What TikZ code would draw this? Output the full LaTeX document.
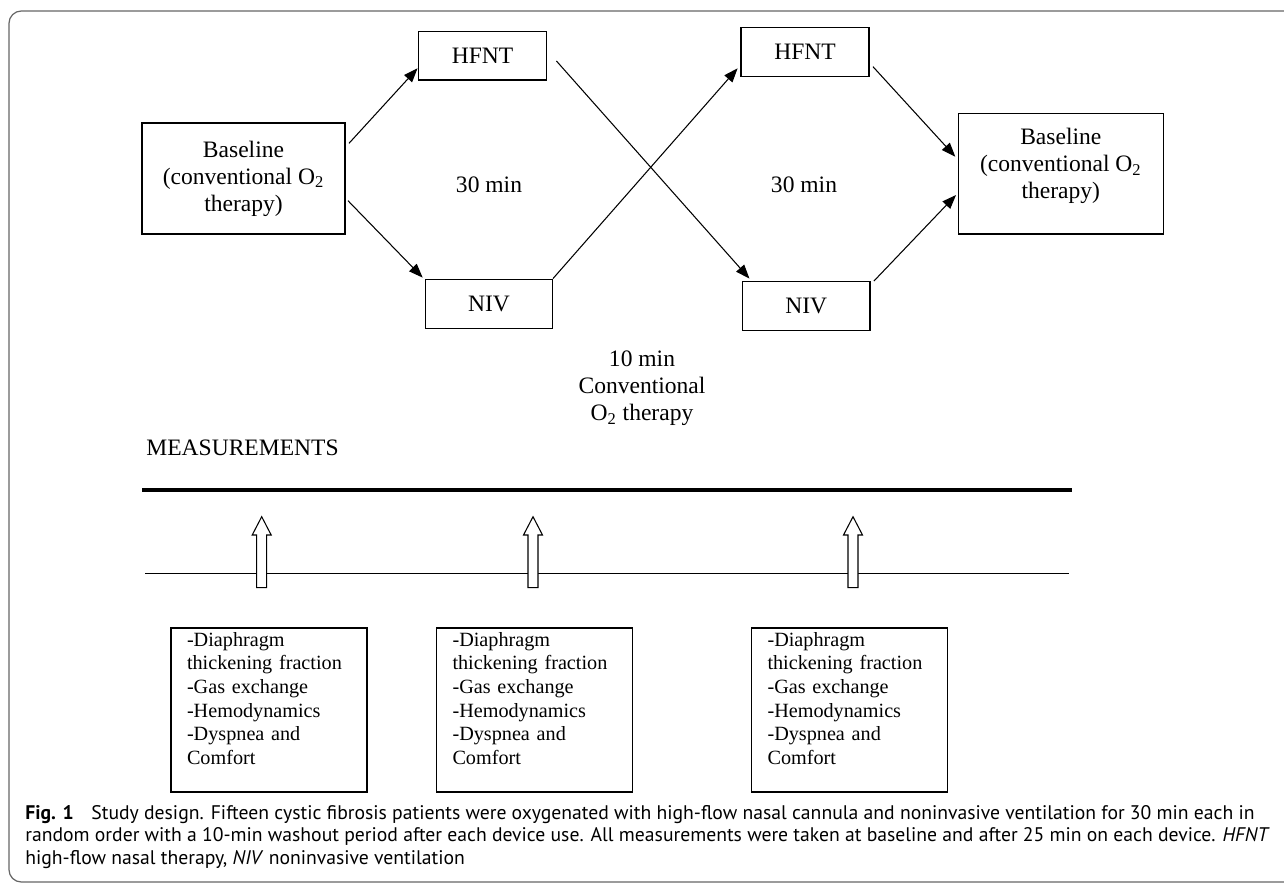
\documentclass[tikz,border=0pt]{standalone}
\usepackage{fontspec}
\setmainfont{Liberation Serif}
\newfontfamily\capfont{PT Sans}
\usetikzlibrary{arrows.meta,calc}

\begin{document}
\begin{tikzpicture}[x=0.02cm,y=-0.02cm,
  box/.style={draw,line width=0.8pt,inner sep=0pt,align=center,font=\fontsize{13.4}{15.3}\selectfont},
  mbox/.style={draw,line width=0.8pt,inner xsep=0.32cm,inner ysep=0pt,text width=3.28cm,
    minimum height=3.28cm,align=left,text depth=80.4pt,font=\fontsize{11.5}{13.4}\selectfont},
  lbl/.style={inner sep=0pt,align=center,font=\fontsize{13.4}{15.3}\selectfont},
  link/.style={line width=0.6pt,-{Triangle[length=8pt,width=6pt]}}]
\useasboundingbox (0,0) rectangle (1284,883);
\draw[black!60,line width=0.7pt,rounded corners=7pt] (1290,11) -- (9,11) -- (9,882) -- (1290,882);

% crossover part
\node[box,minimum width=4.06cm,minimum height=2.22cm] (baseA) at (243.5,178.5) {Baseline\\(conventional O\textsubscript{2}\\therapy)};
\node[box,minimum width=2.57cm,minimum height=0.97cm] (hfntA) at (482.5,55.8) {HFNT};
\node[box,minimum width=2.53cm,minimum height=0.98cm] (nivA) at (489,303.8) {NIV};
\node[box,minimum width=2.56cm,minimum height=0.97cm] (hfntB) at (805,52) {HFNT};
\node[box,minimum width=2.55cm,minimum height=0.98cm] (nivB) at (806.2,306.2) {NIV};
\node[box,minimum width=4.1cm,minimum height=2.41cm,text depth=12pt] (baseB) at (1060.8,173.7) {Baseline\\(conventional O\textsubscript{2}\\therapy)};

\node[lbl] (tA) at (489,185) {30 min};
\node[lbl] (tB) at (804,185) {30 min};
\node[lbl] (wash) at (642,388.5) {10 min\\Conventional\\O\textsubscript{2} therapy};

\draw[link] ($(baseA.north east)+(3.3,21)$) -- ($(hfntA.west)+(0,12.5)$);
\draw[link] ($(baseA.south east)+(2.3,-34)$) -- ($(nivA.north west)+(-2.4,-1)$);
\draw[link] ($(hfntA.east)+(9,5.2)$) -- ($(nivB.north west)+(7.7,-2.4)$);
\draw[link] (nivA.north east) -- ($(hfntB.west)+(-2.7,16.3)$);
\draw[link] ($(hfntB.east)+(3.3,14.7)$) -- ($(baseB.west)+(-2.3,-17)$);
\draw[link] ($(nivB.north east)+(3.3,0)$) -- ($(baseB.west)+(-1.6,21.3)$);

% measurements
\node[lbl,anchor=base west] (meas) at (146,455) {MEASUREMENTS};
\draw[line width=1.9pt] (142,490) -- (1072,490);
\draw[line width=0.6pt] (145,573.7) -- (1069,573.7);
\foreach \x in {261.7,533,853}
  \draw[line width=0.6pt,fill=white] ({\x-5},587.7) -- ({\x-5},535) -- ({\x-9.5},535) -- (\x,516.7)
    -- ({\x+9.5},535) -- ({\x+5},535) -- ({\x+5},587.7) -- cycle;

\node[mbox] (mA) at (269,710) {-Diaphragm\\thickening fraction\\-Gas exchange\\-Hemodynamics\\-Dyspnea and\\Comfort};
\node[mbox] (mB) at (534.5,710) {-Diaphragm\\thickening fraction\\-Gas exchange\\-Hemodynamics\\-Dyspnea and\\Comfort};
\node[mbox] (mC) at (849.5,710) {-Diaphragm\\thickening fraction\\-Gas exchange\\-Hemodynamics\\-Dyspnea and\\Comfort};

% caption
\node[anchor=base west,inner sep=0pt,align=left,font=\capfont\fontsize{11.2}{12.75}\selectfont] (cap) at (25,864)
  {\textbf{Fig. 1}\hspace{10pt}Study design. Fifteen cystic fibrosis patients were oxygenated with high-flow nasal cannula and noninvasive ventilation for 30 min each in\\
   random order with a 10-min washout period after each device use. All measurements were taken at baseline and after 25 min on each device. \textit{HFNT}\\
   high-flow nasal therapy, \textit{NIV} noninvasive ventilation};
\end{tikzpicture}
\end{document}
